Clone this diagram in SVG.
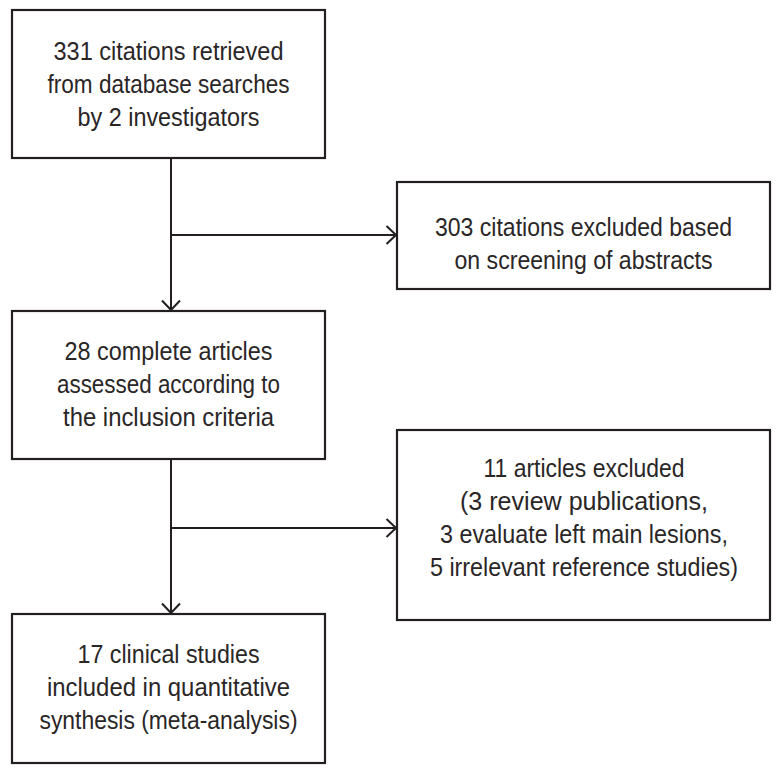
<svg xmlns="http://www.w3.org/2000/svg" width="782" height="775" viewBox="0 0 782 775">
<style>
.box{fill:#fff;stroke:#231f20;stroke-width:2.2}
.ln{fill:none;stroke:#231f20;stroke-width:2}
text{font-family:"Liberation Sans",Arial,sans-serif;font-size:25px;fill:#2a2627;text-anchor:middle}
</style>
<defs>
<marker id="ah" markerUnits="userSpaceOnUse" markerWidth="24" markerHeight="24" refX="12" refY="12" orient="auto" viewBox="0 0 24 24">
<path d="M2.5,3 L12,12 L2.5,21" fill="none" stroke="#231f20" stroke-width="2"/>
</marker>
</defs>
<rect width="782" height="775" fill="#fff"/>
<g id="connectors">
<line class="ln" x1="171" y1="158" x2="171" y2="310" marker-end="url(#ah)"/>
<line class="ln" x1="171" y1="235" x2="396" y2="235" marker-end="url(#ah)"/>
<line class="ln" x1="171" y1="459" x2="171" y2="613" marker-end="url(#ah)"/>
<line class="ln" x1="171" y1="528" x2="396" y2="528" marker-end="url(#ah)"/>
</g>
<g id="n1">
<rect class="box" x="12" y="10" width="313" height="148"/>
<text x="168.5" y="60" textLength="230" lengthAdjust="spacingAndGlyphs">331 citations retrieved</text>
<text x="168.5" y="93" textLength="242" lengthAdjust="spacingAndGlyphs">from database searches</text>
<text x="168.5" y="126" textLength="182" lengthAdjust="spacingAndGlyphs">by 2 investigators</text>
</g>
<g id="n2">
<rect class="box" x="397" y="182" width="373" height="107"/>
<text x="583.5" y="236" textLength="297" lengthAdjust="spacingAndGlyphs">303 citations excluded based</text>
<text x="583.5" y="269" textLength="258" lengthAdjust="spacingAndGlyphs">on screening of abstracts</text>
</g>
<g id="n3">
<rect class="box" x="12" y="311" width="313" height="148"/>
<text x="168.5" y="360" textLength="208" lengthAdjust="spacingAndGlyphs">28 complete articles</text>
<text x="168.5" y="393" textLength="223" lengthAdjust="spacingAndGlyphs">assessed according to</text>
<text x="168.5" y="426" textLength="211" lengthAdjust="spacingAndGlyphs">the inclusion criteria</text>
</g>
<g id="n4">
<rect class="box" x="397" y="430" width="373" height="190"/>
<text x="584" y="477" textLength="201" lengthAdjust="spacingAndGlyphs">11 articles excluded</text>
<text x="584" y="510" textLength="248" lengthAdjust="spacingAndGlyphs">(3 review publications,</text>
<text x="584" y="543" textLength="288" lengthAdjust="spacingAndGlyphs">3 evaluate left main lesions,</text>
<text x="584" y="576" textLength="308" lengthAdjust="spacingAndGlyphs">5 irrelevant reference studies)</text>
</g>
<g id="n5">
<rect class="box" x="12" y="614" width="313" height="149"/>
<text x="168.5" y="663" textLength="182" lengthAdjust="spacingAndGlyphs">17 clinical studies</text>
<text x="168.5" y="696" textLength="243" lengthAdjust="spacingAndGlyphs">included in quantitative</text>
<text x="168.5" y="729" textLength="258" lengthAdjust="spacingAndGlyphs">synthesis (meta-analysis)</text>
</g>
</svg>
